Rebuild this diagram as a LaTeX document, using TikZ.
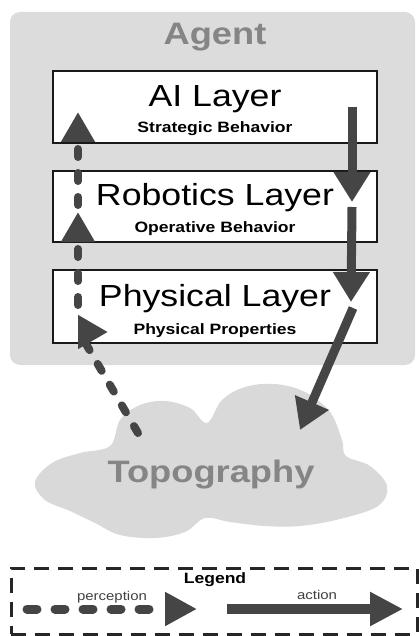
\documentclass[tikz,border=0pt]{standalone}
\usepackage{fontspec}
\setmainfont[FakeStretch=1.17]{Liberation Sans}
\usetikzlibrary{arrows.meta}
\definecolor{agentbg}{HTML}{DCDCDC}
\definecolor{cloudbg}{HTML}{D9D9D9}
\definecolor{arrowc}{HTML}{454545}
\definecolor{labelc}{HTML}{858585}
\begin{document}
\begin{tikzpicture}[x=1pt,y=-1pt,
  layerbox/.style={draw=black!90, line width=2pt, fill=white, minimum width=324pt, inner sep=0pt},
  titletext/.style={anchor=base, inner sep=0pt, font=\fontsize{30.5}{30.5}\selectfont},
  subtext/.style={anchor=base, inner sep=0pt, font=\bfseries\fontsize{15}{15}\selectfont},
  bigtext/.style={anchor=base, inner sep=0pt, text=labelc, font=\bfseries\fontsize{31}{31}\selectfont},
  smalltext/.style={anchor=base, inner sep=0pt, text=black!75, font=\fontsize{12.8}{12.8}\selectfont},
  actionarrow/.style={draw=arrowc, line width=9pt, -{Triangle[length=30pt,width=35pt]}},
  percarrow/.style={draw=arrowc, line width=8pt, line cap=round, dash pattern=on 8pt off 16pt, -{Triangle[length=30pt,width=32pt]}},
]
\useasboundingbox (0,0) rectangle (418,636);
% agent background
\node[fill=agentbg, rounded corners=10pt, minimum width=405pt, minimum height=353pt, inner sep=0pt] (agent) at (212.5,188.5) {};
\node[bigtext] (agentlabel) at (215,45) {Agent};
% layers
\node[layerbox, minimum height=72pt] (ai) at (215,107) {};
\node[layerbox, minimum height=71pt] (rob) at (215,206.5) {};
\node[layerbox, minimum height=73pt] (phy) at (215,306.5) {};
\node[titletext] (aititle) at (215,107) {AI Layer};
\node[subtext] (aisub) at (215,133) {Strategic Behavior};
\node[titletext] (robtitle) at (215,206) {Robotics Layer};
\node[subtext] (robsub) at (215,233) {Operative Behavior};
\node[titletext] (phytitle) at (215,306) {Physical Layer};
\node[subtext] (physub) at (215,334) {Physical Properties};
% cloud
\fill[cloudbg] plot[smooth cycle, tension=0.6] coordinates {
 (35,482) (52,463) (80,453) (110,446) (120,420) (140,405) (165,401) (190,408) (207,423)
 (222,400) (245,387) (275,384) (305,392) (330,412) (342,440) (346,456) (370,466) (387,486)
 (378,506) (340,519) (300,526) (265,526) (230,522) (205,518) (185,532) (155,538) (120,535)
 (95,523) (70,511) (45,500)};
\node[bigtext] (topo) at (211,482) {Topography};
% connector end points
\coordinate (a1s) at (352,107);
\coordinate (a1e) at (352,202);
\coordinate (a2s) at (352,207);
\coordinate (a2e) at (351,302);
\coordinate (a3s) at (353,308);
\coordinate (a3e) at (300,430);
\coordinate (p0s) at (138,433);
\coordinate (p0m) at (79,332);
\coordinate (p0e) at (108,332);
\coordinate (p1s) at (78,305);
\coordinate (p1e) at (78,212);
\coordinate (p2s) at (78,205);
\coordinate (p2e) at (78,112);
% action arrows
\draw[actionarrow] (a1s) -- (a1e);
\draw[actionarrow] (a2s) -- (a2e);
\draw[actionarrow] (a3s) -- (a3e);
% perception arrows
\draw[percarrow] (p0s) -- (p0m) -- (p0e);
\draw[percarrow] (p1s) -- (p1e);
\draw[percarrow] (p2s) -- (p2e);
% legend
\node[draw=black!85, line width=3pt, dash pattern=on 15pt off 9pt, minimum width=406pt, minimum height=66pt, inner sep=0pt] (legend) at (214,601) {};
\node[subtext] (legendlabel) at (215,583) {Legend};
\node[smalltext] (perclabel) at (112,600) {perception};
\node[smalltext] (actlabel) at (317,599) {action};
\coordinate (lp1) at (27,609);
\coordinate (lp2) at (197,609);
\coordinate (la1) at (227,609);
\coordinate (la2) at (403,609);
\draw[percarrow, line width=9pt, dash pattern=on 10pt off 18pt, -{Triangle[length=32pt,width=32pt]}] (lp1) -- (lp2);
\draw[actionarrow, line width=10pt, -{Triangle[length=33pt,width=32pt]}] (la1) -- (la2);
\end{tikzpicture}
\end{document}
